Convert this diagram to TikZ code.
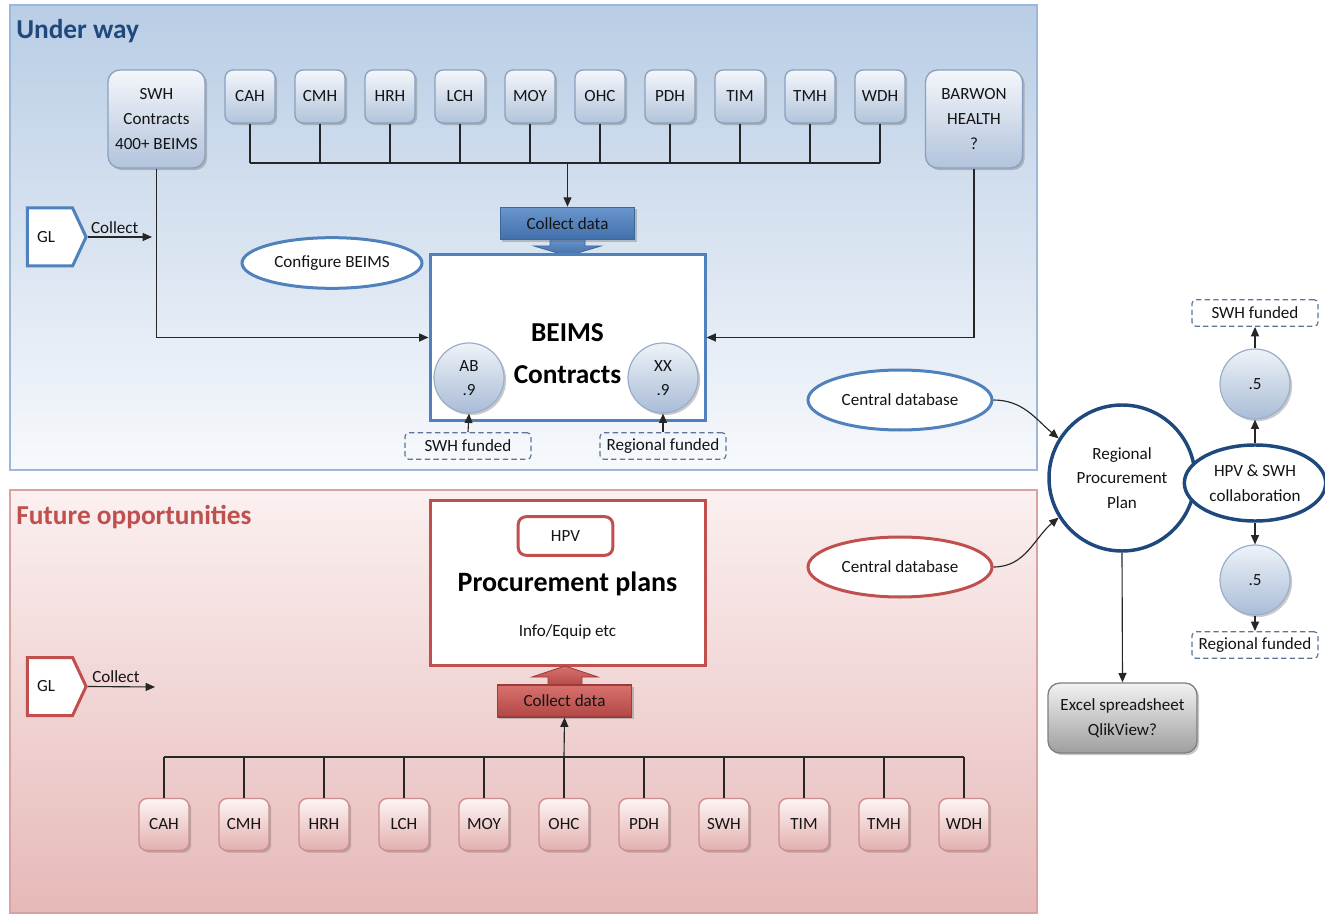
\documentclass[tikz,border=0pt]{standalone}
\usepackage{fontspec}
\setmainfont{Carlito}
\usetikzlibrary{arrows.meta,shapes.geometric,shapes.symbols,shadows}
\definecolor{linec}{HTML}{262626}
\definecolor{ponetop}{HTML}{B9CDE5}
\definecolor{ponebot}{HTML}{F7F9FC}
\definecolor{poneb}{HTML}{9BB7D9}
\definecolor{ptwotop}{HTML}{FBF0F0}
\definecolor{ptwobot}{HTML}{E6B9B8}
\definecolor{ptwob}{HTML}{D8A3A2}
\definecolor{bboxt}{HTML}{F4F7FB}
\definecolor{bboxbo}{HTML}{B2C3DB}
\definecolor{bboxb}{HTML}{8AA0BE}
\definecolor{rboxt}{HTML}{FDF4F4}
\definecolor{rboxbo}{HTML}{E3AFAE}
\definecolor{rboxb}{HTML}{C98E8D}
\definecolor{uwblue}{HTML}{4F81BD}
\definecolor{fored}{HTML}{C0504D}
\definecolor{dnavy}{HTML}{1F497D}
\definecolor{titleblue}{HTML}{1F497D}
\definecolor{ct}{HTML}{EEF3F9}
\definecolor{cb}{HTML}{A9BCD6}
\definecolor{cbd}{HTML}{9AAEC9}
\definecolor{dashc}{HTML}{5B7598}
\definecolor{cdbt}{HTML}{6A96CC}
\definecolor{cdbb}{HTML}{416FAA}
\definecolor{cdbd}{HTML}{3C679B}
\definecolor{rcdt}{HTML}{D8716E}
\definecolor{rcdb}{HTML}{B24744}
\definecolor{rcdd}{HTML}{9E3B38}
\definecolor{exb}{HTML}{7F7F7F}
\begin{document}
\begin{tikzpicture}[x=0.75pt,y=-0.75pt,
  every node/.style={font=\fontsize{12.8}{18.5}\selectfont, text=black!92},
  arr/.style={draw=linec, line width=0.85pt, -{Triangle[length=7pt,width=6pt]}},
  bus/.style={draw=linec, line width=0.85pt},
  shad/.style={drop shadow={shadow xshift=1.6pt,shadow yshift=-1.6pt,opacity=0.35,fill=black!60}},
  bbox/.style={draw=bboxb, line width=1pt, rounded corners=6pt, top color=bboxt, bottom color=bboxbo, inner sep=0pt, align=center, shad},
  rbox/.style={draw=rboxb, line width=1pt, rounded corners=6pt, top color=rboxt, bottom color=rboxbo, inner sep=0pt, align=center, shad,
     minimum width=37.5pt, minimum height=39pt},
  smallb/.style={bbox, minimum width=37.5pt, minimum height=39.75pt},
  bigb/.style={bbox, minimum width=72.75pt, minimum height=73.5pt, rounded corners=9pt},
  ball/.style={circle, draw=cbd, line width=0.9pt, top color=ct, bottom color=cb, minimum size=52.5pt, inner sep=0pt, align=center, shad},
  dbox/.style={draw=dashc, dash pattern=on 4pt off 2.5pt, line width=0.9pt, rounded corners=3pt, minimum width=94.5pt, minimum height=20pt, inner sep=0pt},
  bell/.style={ellipse, draw=uwblue, line width=2.25pt, fill=white, inner sep=0pt},
  rell/.style={ellipse, draw=fored, line width=2.25pt, fill=white, inner sep=0pt},
  glb/.style={signal, signal to=east, signal pointer angle=130, line width=2.25pt, fill=white, minimum width=44pt, minimum height=43.5pt, inner sep=0pt},
  cdblue/.style={draw=cdbd, line width=0.8pt, top color=cdbt, bottom color=cdbb, minimum width=101pt, minimum height=24.5pt, inner sep=0pt, shad},
  cdred/.style={draw=rcdd, line width=0.8pt, top color=rcdt, bottom color=rcdb, minimum width=101pt, minimum height=24pt, inner sep=0pt, shad},
  ttl/.style={font=\fontsize{20.5}{24}\selectfont\bfseries, anchor=west, inner sep=0pt}
]
\useasboundingbox (0,0) rectangle (1325,916);
% panels
\path[draw=poneb, line width=1.4pt, top color=ponetop, bottom color=ponebot] (10,5) rectangle (1037,470);
\path[draw=ptwob, line width=1.4pt, top color=ptwotop, bottom color=ptwobot] (10,490) rectangle (1037,913);
\node[ttl, text=titleblue] (t-under) at (16,31) {Under way};
\node[ttl, text=fored] (t-future) at (16,517) {Future opportunities};

% ===== top panel =====
\node[bigb] (swh) at (156.5,119) {SWH\\Contracts\\400+ BEIMS};
\node[bigb] (barwon) at (974,119) {BARWON\\HEALTH\\?};
\foreach \x/\n [count=\i] in {250/CAH,320/CMH,390/HRH,460/LCH,530/MOY,600/OHC,670/PDH,740/TIM,810/TMH,880/WDH}
  \node[smallb] (t\i) at (\x,96.5) {\n};
\coordinate (busT) at (567.5,163);
\foreach \i in {1,...,10} \draw[bus] (t\i.south) -- (t\i.south |- busT);
\draw[bus] (t1.south |- busT) -- (t10.south |- busT);

% collect data (blue)
\path[draw=cdbd, line width=0.6pt, top color=cdbt, bottom color=cdbb]
  (550,238) -- (550,246) -- (534,246) -- (567.5,256) -- (601,246) -- (585,246) -- (585,238) -- cycle;
\node[cdblue] (cd1) at (567.5,223.5) {Collect data};
\draw[arr] (busT) -- (cd1.north);

% BEIMS box
\node[draw=uwblue, line width=2.25pt, fill=white, minimum width=206.25pt, minimum height=123.75pt, inner sep=0pt] (beims) at (567.5,337.5) {};
\node[font=\fontsize{20.5}{31.5}\selectfont\bfseries, align=center, text=black] (beimstxt) at (567.5,354) {BEIMS\\Contracts};
\node[ball] (ab) at (469,378) {AB\\.9};
\node[ball] (xx) at (663,378) {XX\\.9};
\node[dbox] (swhf1) at (468,446) {SWH funded};
\node[dbox] (regf1) at (663,446) {Regional funded};
\draw[arr] (swhf1.north) -- (ab.south);
\draw[arr] (regf1.north) -- (xx.south);

\node[bell, minimum width=135pt, minimum height=38pt] (conf) at (332,263) {Configure BEIMS};

% GL
\node[glb, draw=uwblue] (gl1) at (50,237) {GL\hspace*{6pt}};
\coordinate (c1) at (152,237);
\draw[arr] (gl1.east) -- node[above=-1pt, pos=0.42] (col1) {Collect} (c1);

\draw[arr] (swh.south) |- (beims.west);
\draw[arr] (barwon.south) |- (beims.east);

\node[bell, minimum width=138pt, minimum height=45pt] (cdb1) at (900,400) {Central database};

% ===== bottom panel =====
\node[draw=fored, line width=2.25pt, fill=white, minimum width=206.25pt, minimum height=123.75pt, inner sep=0pt] (proc) at (567.5,582.5) {};
\node[draw=fored, line width=2.25pt, rounded corners=6pt, fill=white, minimum width=71pt, minimum height=29pt, inner sep=0pt] (hpv) at (565.5,536) {HPV};
\node[font=\fontsize{21}{25}\selectfont\bfseries, text=black] (proctxt) at (567.5,584) {Procurement plans};
\node (info) at (567.5,632) {Info/Equip etc};

\path[draw=rcdd, line width=0.6pt, top color=rcdt, bottom color=rcdb]
  (548,687) -- (548,677) -- (532,677) -- (565,666) -- (598,677) -- (582,677) -- (582,687) -- cycle;
\node[cdred] (cd2) at (564.5,701) {Collect data};

\foreach \x/\n [count=\i] in {164/CAH,244/CMH,324/HRH,404/LCH,484/MOY,564/OHC,644/PDH,724/SWH,804/TIM,884/TMH,964/WDH}
  \node[rbox] (b\i) at (\x,824.5) {\n};
\coordinate (busB) at (564,757);
\foreach \i in {1,...,11} \draw[bus] (b\i.north) -- (b\i.north |- busB);
\draw[bus] (b1.north |- busB) -- (b11.north |- busB);
\draw[arr] (busB) -- (cd2.south);

\node[glb, draw=fored] (gl2) at (50,686.5) {GL\hspace*{6pt}};
\coordinate (c2) at (155,687);
\draw[arr] (gl2.east) -- node[above=-1pt, pos=0.42] (col2) {Collect} (c2);

\node[rell, minimum width=138pt, minimum height=45pt] (cdb2) at (900,567) {Central database};

% ===== right side =====
\node[circle, draw=dnavy, line width=2.6pt, fill=white, minimum size=109.5pt, inner sep=0pt, align=center] (rpp) at (1122,478) {Regional\\Procurement\\Plan};
\node[ellipse, draw=dnavy, line width=2.6pt, fill=white, minimum width=106pt, minimum height=57pt, inner sep=0pt, align=center] (hpvswh) at (1255,483) {HPV \& SWH\\collaboration};
\node[ball] (h1) at (1255,384) {.5};
\node[ball] (h2) at (1255,580) {.5};
\node[dbox] (swhf2) at (1255,313) {SWH funded};
\node[dbox] (regf2) at (1255,645) {Regional funded};
\draw[arr] (hpvswh.north) -- (h1.south);
\draw[arr] (h1.north) -- (swhf2.south);
\draw[arr] (hpvswh.south) -- (h2.north);
\draw[arr] (h2.south) -- (regf2.north);

\draw[arr] (cdb1.east) to[out=0, in=140] (rpp.148);
\draw[arr] (cdb2.east) to[out=0, in=220] (rpp.212);

\node[draw=exb, line width=1pt, rounded corners=9pt, top color=white!95!black, bottom color=black!38, minimum width=111.75pt, minimum height=52.5pt, inner sep=0pt, align=center, shad] (excel) at (1122.5,718) {Excel spreadsheet\\QlikView?};
\draw[arr] (rpp.south) -- (excel.north);
\end{tikzpicture}
\end{document}
